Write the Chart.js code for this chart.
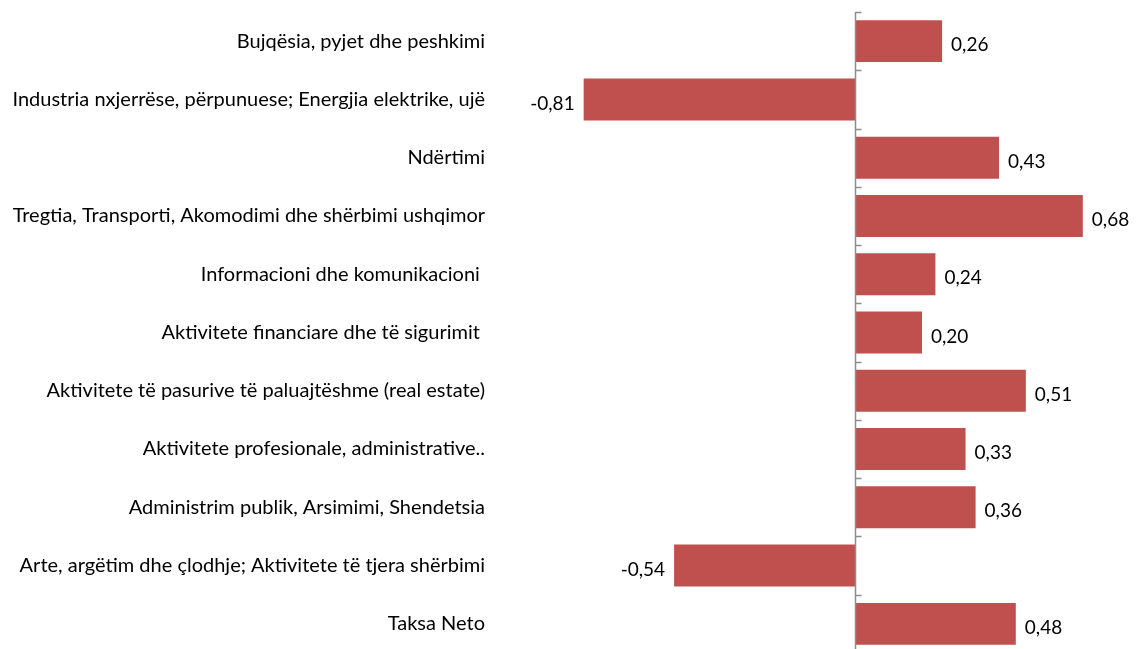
<!DOCTYPE html>
<html>
<head>
<meta charset="utf-8">
<script src="https://cdn.jsdelivr.net/npm/chart.js@4"></script>
<style>
  html, body { margin: 0; padding: 0; background: #fff; overflow: hidden; }
  canvas { display: block; }
</style>
</head>
<body>
<canvas id="c" width="1138" height="653"></canvas>
<script>
const categories = [
  "Bujqësia, pyjet dhe peshkimi",
  "Industria nxjerrëse, përpunuese; Energjia elektrike, ujë",
  "Ndërtimi",
  "Tregtia, Transporti, Akomodimi dhe shërbimi ushqimor",
  "Informacioni dhe komunikacioni ",
  "Aktivitete financiare dhe të sigurimit ",
  "Aktivitete të pasurive të paluajtëshme (real estate)",
  "Aktivitete profesionale, administrative..",
  "Administrim publik, Arsimimi, Shendetsia",
  "Arte, argëtim dhe çlodhje; Aktivitete të tjera shërbimi",
  "Taksa Neto"
];
const values = [0.26, -0.81, 0.43, 0.68, 0.24, 0.20, 0.51, 0.33, 0.36, -0.54, 0.48];

const FONT = "Lato, 'Open Sans', sans-serif";

// zero line with short ticks between categories, plus value labels
const extras = {
  id: "extras",
  afterDatasetsDraw(chart) {
    const ctx = chart.ctx;
    const x = chart.scales.x, y = chart.scales.y;
    const x0 = Math.round(x.getPixelForValue(0)) + 0.5;
    const area = chart.chartArea;
    ctx.save();
    ctx.strokeStyle = "#8c8c8c";
    ctx.lineWidth = 1.5;
    ctx.beginPath();
    ctx.moveTo(x0, area.top);
    ctx.lineTo(x0, area.bottom);
    for (let i = 0; i <= categories.length; i++) {
      const py = Math.round(y.getPixelForValue(i - 0.5)) + 0.5;
      ctx.moveTo(x0, py);
      ctx.lineTo(x0 + 6, py);
    }
    ctx.stroke();

    ctx.fillStyle = "#000";
    ctx.font = "19px " + FONT;
    ctx.textBaseline = "middle";
    const meta = chart.getDatasetMeta(0);
    meta.data.forEach((bar, i) => {
      const v = values[i];
      const txt = v.toFixed(2).replace(".", ",");
      if (v >= 0) {
        ctx.textAlign = "left";
        ctx.fillText(txt, bar.x + 9, bar.y + 4);
      } else {
        ctx.textAlign = "right";
        ctx.fillText(txt, bar.x - 9, bar.y + 4);
      }
    });
    ctx.restore();
  }
};

new Chart(document.getElementById("c"), {
  type: "bar",
  data: {
    labels: categories,
    datasets: [{
      data: values,
      backgroundColor: "#c0504d",
      borderWidth: 0,
      barPercentage: 0.72,
      categoryPercentage: 1.0
    }]
  },
  options: {
    indexAxis: "y",
    responsive: false,
    animation: false,
    layout: { autoPadding: false, padding: { top: 12, right: 15, bottom: 0, left: 0 } },
    plugins: {
      legend: { display: false },
      tooltip: { enabled: false }
    },
    scales: {
      x: {
        min: -1,
        max: 0.8,
        display: false
      },
      y: {
        grid: { display: false, drawTicks: false },
        border: { display: false },
        afterFit(scale) {
          scale.width = 520;
          scale.paddingTop = 0;
          scale.paddingBottom = 0;
        },
        ticks: {
          padding: 35,
          color: "#000",
          font: { family: FONT, size: 20 }
        }
      }
    }
  },
  plugins: [extras]
});
</script>
</body>
</html>
